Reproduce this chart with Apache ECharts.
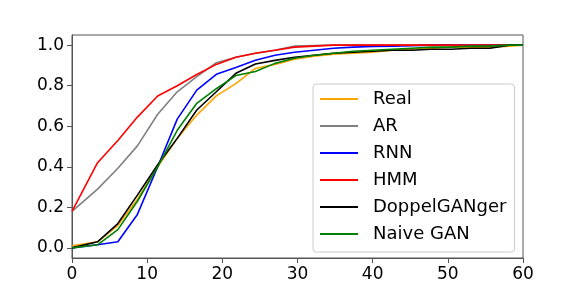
<!DOCTYPE html>
<html>
<head>
<meta charset="utf-8">
<script src="https://cdn.jsdelivr.net/npm/echarts@6/dist/echarts.min.js"></script>
<style>html,body{margin:0;padding:0;background:#fff;}#c{width:581px;height:291px;}</style>
</head>
<body>
<div id="c"></div>
<script>
var xValues = [0, 3.4, 6.1, 8.7, 11.4, 14.0, 16.6, 19.2, 21.8, 24.4, 27.0, 29.6, 32.2, 34.8, 37.4, 40.0, 42.6, 45.2, 47.8, 50.4, 53.0, 55.6, 58.2, 60];
var seriesNames = ["Real", "AR", "RNN", "HMM", "DoppelGANger", "Naive GAN"];
var seriesColors = ["#FFA500", "#808080", "#0000FF", "#FF0000", "#000000", "#008000"];
var realVals =   [0.01, 0.03, 0.11, 0.24, 0.40, 0.54, 0.655, 0.75, 0.81, 0.885, 0.905, 0.93, 0.945, 0.955, 0.96, 0.965, 0.975, 0.98, 0.985, 0.99, 0.99, 0.99, 0.995, 1.0];
var arVals =     [0.18, 0.29, 0.393, 0.503, 0.659, 0.77, 0.845, 0.913, 0.94, 0.96, 0.975, 0.995, 0.998, 1.0, 1.0, 1.0, 1.0, 1.0, 1.0, 1.0, 1.0, 1.0, 1.0, 1.0];
var rnnVals =    [0.0, 0.015, 0.03, 0.165, 0.40, 0.635, 0.778, 0.856, 0.89, 0.925, 0.95, 0.965, 0.975, 0.985, 0.99, 0.993, 0.995, 0.997, 1.0, 1.0, 1.0, 1.0, 1.0, 1.0];
var hmmVals =    [0.18, 0.42, 0.53, 0.645, 0.749, 0.80, 0.855, 0.905, 0.94, 0.96, 0.975, 0.99, 0.995, 1.0, 1.0, 1.0, 1.0, 1.0, 1.0, 1.0, 1.0, 1.0, 1.0, 1.0];
var dgVals =     [0.0, 0.03, 0.12, 0.26, 0.41, 0.54, 0.68, 0.77, 0.861, 0.907, 0.925, 0.94, 0.95, 0.96, 0.965, 0.97, 0.975, 0.975, 0.98, 0.98, 0.985, 0.985, 1.0, 1.0];
var naiveVals =  [0.0, 0.015, 0.09, 0.23, 0.40, 0.58, 0.713, 0.785, 0.85, 0.87, 0.91, 0.935, 0.95, 0.96, 0.97, 0.975, 0.98, 0.985, 0.99, 0.99, 0.995, 0.995, 1.0, 1.0];
var yTicks = [0, 0.2, 0.4, 0.6, 0.8, 1.0];
var xTicks = [0, 10, 20, 30, 40, 50, 60];

var allVals = [realVals, arVals, rnnVals, hmmVals, dgVals, naiveVals];
var FONT = "DejaVu Sans";
var AX = "#555555";

var series = seriesNames.map(function (name, i) {
  return {
    name: name,
    type: "line",
    data: xValues.map(function (x, j) { return [x, allVals[i][j]]; }),
    showSymbol: false,
    symbol: "none",
    lineStyle: { color: seriesColors[i], width: 1.6 },
    itemStyle: { color: seriesColors[i] },
    animation: false,
    z: 2 + i
  };
});

var chart = echarts.init(document.getElementById("c"), null, { renderer: "canvas" });
chart.setOption({
  animation: false,
  backgroundColor: "#ffffff",
  grid: { left: 72, right: 58, top: 35, bottom: 33, show: true, borderColor: AX, borderWidth: 1, backgroundColor: "transparent" },
  xAxis: {
    type: "value", min: 0, max: 60, interval: 10,
    axisLine: { show: true, onZero: false, lineStyle: { color: AX, width: 1 } },
    axisTick: { show: true, length: 5, lineStyle: { color: AX }, customValues: xTicks },
    axisLabel: { color: "#000", fontFamily: FONT, fontSize: 17, margin: 8, customValues: xTicks },
    splitLine: { show: false }
  },
  yAxis: {
    type: "value", min: -0.05, max: 1.05,
    axisLine: { show: true, onZero: false, lineStyle: { color: AX, width: 1 } },
    axisTick: { show: true, length: 5, lineStyle: { color: AX }, customValues: yTicks },
    axisLabel: { color: "#000", fontFamily: FONT, fontSize: 17, margin: 8, customValues: yTicks,
      formatter: function (v) { return v.toFixed(1); } },
    splitLine: { show: false }
  },
  legend: {
    orient: "vertical",
    left: 313, top: 84,
    data: seriesNames.map(function (n) { return { name: n, icon: "rect" }; }),
    itemWidth: 38, itemHeight: 2,
    itemGap: 7,
    itemTextGap: 15,
    padding: [5, 8, 8, 7],
    borderColor: "#cccccc", borderWidth: 1, borderRadius: 3,
    backgroundColor: "rgba(255,255,255,0.8)",
    textStyle: { color: "#000", fontFamily: FONT, fontSize: 18, lineHeight: 20, padding: [0, 0, 0, 10] }
  },
  series: series
});
</script>
</body>
</html>
